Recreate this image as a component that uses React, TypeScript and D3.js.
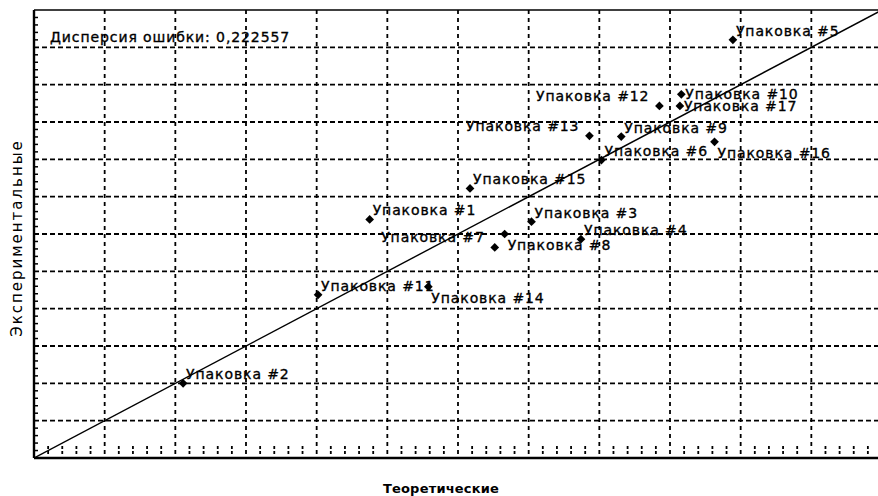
import { scaleLinear, range, symbol, symbolSquare } from 'd3'

// packages, theoretical vs experimental values (grid units)
const packages = [
  'Упаковка #1', 'Упаковка #2', 'Упаковка #3', 'Упаковка #4', 'Упаковка #5',
  'Упаковка #6', 'Упаковка #7', 'Упаковка #8', 'Упаковка #9', 'Упаковка #10',
  'Упаковка #11', 'Упаковка #12', 'Упаковка #13', 'Упаковка #14', 'Упаковка #15',
  'Упаковка #16', 'Упаковка #17',
]
const theoretical = [
  4.75, 2.11, 7.04, 7.74, 9.89, 8.03, 6.52, 6.66, 8.31, 9.16,
  4.02, 8.85, 7.86, 5.58, 6.17, 9.63, 9.14,
]
const experimental = [
  6.39, 2.0, 6.33, 5.86, 11.2, 7.98, 5.64, 6.0, 8.61, 9.74,
  4.37, 9.43, 8.63, 4.59, 7.22, 8.47, 9.43,
]
const errorVariance = '0,222557'
const xTitle = 'Теоретические'
const yTitle = 'Экспериментальные'

// where each label sits relative to its point
const labelSide = [
  'ur', 'ur', 'ur', 'ur', 'ur', 'ur', 'ul', 'dr', 'ur', 'r',
  'ur', 'ul', 'ul', 'dr', 'ur', 'dr', 'r',
]

const width = 878
const height = 496
const plot = { left: 34, right: 882, top: 10, bottom: 458 }

const font = '"DejaVu Sans", Verdana, sans-serif'

export default function App() {
  const x = scaleLinear().domain([0, 12]).range([plot.left, plot.right])
  const y = scaleLinear().domain([0, 12]).range([plot.bottom, plot.top])

  const majors = range(1, 12)
  const minors = range(1, 60).map((d) => d / 5).filter((d) => d % 1 !== 0)
  const marker = symbol().type(symbolSquare).size(38)() ?? ''

  const labelPos = (side: string, px: number, py: number) => {
    if (side === 'ul') return { x: px - 10, y: py - 5, anchor: 'end' }
    if (side === 'dr') return { x: px + 3, y: py + 16, anchor: 'start' }
    if (side === 'r') return { x: px + 4, y: py + 5, anchor: 'start' }
    return { x: px + 3, y: py - 4, anchor: 'start' }
  }

  return (
    <svg
      width={width}
      height={height}
      style={{ position: 'absolute', left: 0, top: 0, background: '#fff' }}
      fontFamily={font}
    >
      <defs>
        <clipPath id="plot-clip">
          <rect x={plot.left} y={plot.top} width={width - plot.left} height={plot.bottom - plot.top} />
        </clipPath>
      </defs>

      <g clipPath="url(#plot-clip)">
        {/* grid */}
        {majors.map((t) => (
          <line
            key={`h${t}`}
            x1={plot.left}
            x2={width}
            y1={y(t)}
            y2={y(t)}
            stroke="#000"
            strokeWidth={1.8}
            strokeDasharray="5,3"
          />
        ))}
        {majors.map((t) => (
          <line
            key={`v${t}`}
            x1={x(t)}
            x2={x(t)}
            y1={plot.top}
            y2={plot.bottom}
            stroke="#000"
            strokeWidth={1.8}
            strokeDasharray="4,4"
          />
        ))}

        {/* minor ticks */}
        {minors.map((t) => (
          <line
            key={`bt${t}`}
            x1={x(t)}
            x2={x(t)}
            y1={plot.bottom - 12}
            y2={plot.bottom - 4}
            stroke="#000"
            strokeWidth={1.8}
            strokeDasharray="3,2"
          />
        ))}
        {minors.map((t) => (
          <line
            key={`lt${t}`}
            x1={plot.left}
            x2={plot.left + 4}
            y1={y(t)}
            y2={y(t)}
            stroke="#000"
            strokeWidth={1.5}
          />
        ))}

        {/* ideal line */}
        <line x1={x(0)} y1={y(0)} x2={x(12)} y2={y(12)} stroke="#000" strokeWidth={1.4} />

        {theoretical.map((tv, i) => {
          const px = x(tv)
          const py = y(experimental[i])
          const lp = labelPos(labelSide[i], px, py)
          return (
            <g key={packages[i]}>
              <path d={marker} transform={`translate(${px},${py}) rotate(45)`} fill="#000" />
              <text
                x={lp.x}
                y={lp.y}
                textAnchor={lp.anchor}
                fontSize={14}
                letterSpacing={0.9}
                fill="#000"
                stroke="#000"
                strokeWidth={0.35}
              >
                {packages[i]}
              </text>
            </g>
          )
        })}

        <text
          x={50}
          y={42}
          fontSize={14}
          letterSpacing={0.9}
          fill="#000"
          stroke="#000"
          strokeWidth={0.35}
        >
          Дисперсия ошибки: {errorVariance}
        </text>
      </g>

      {/* frame */}
      <line x1={plot.left} x2={width} y1={plot.top} y2={plot.top} stroke="#000" strokeWidth={1.6} />
      <line x1={plot.left} x2={plot.left} y1={plot.top} y2={plot.bottom} stroke="#000" strokeWidth={2.4} />
      <line x1={plot.left} x2={width} y1={plot.bottom} y2={plot.bottom} stroke="#000" strokeWidth={2.4} />

      <text
        x={441}
        y={493}
        textAnchor="middle"
        fontSize={13}
        fontWeight="bold"
        letterSpacing={0.2}
        fill="#000"
      >
        {xTitle}
      </text>
      <text
        transform={`translate(22, 238) rotate(-90)`}
        textAnchor="middle"
        fontSize={15}
        letterSpacing={2}
        fill="#000"
      >
        {yTitle}
      </text>
    </svg>
  )
}
